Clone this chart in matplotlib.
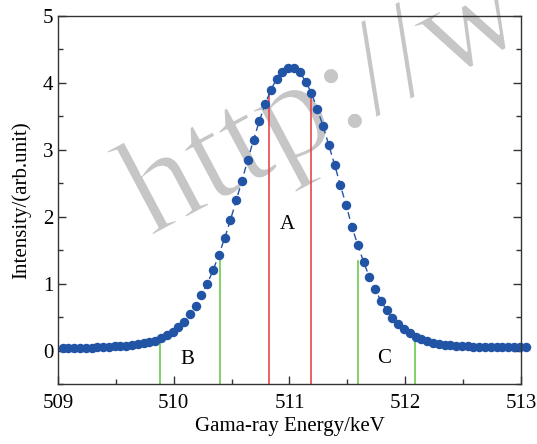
import numpy as np
import matplotlib
matplotlib.use("Agg")
import matplotlib.pyplot as plt
import matplotlib.patheffects as pe
from matplotlib.ticker import MultipleLocator

# ---- data ----
energy_start = 509.04
energy_step = 0.05
intensity = [
    0.042, 0.042, 0.043, 0.043, 0.044, 0.045, 0.047, 0.050, 0.057, 0.062,
    0.067, 0.072, 0.087, 0.097, 0.117, 0.132, 0.147, 0.182, 0.232, 0.281,
    0.347, 0.430, 0.546, 0.670, 0.825, 1.000, 1.200, 1.430, 1.680, 1.950,
    2.245, 2.540, 2.850, 3.150, 3.430, 3.680, 3.900, 4.060, 4.170, 4.220,
    4.220, 4.160, 4.020, 3.850, 3.610, 3.360, 3.070, 2.780, 2.470, 2.175,
    1.850, 1.580, 1.330, 1.100, 0.915, 0.745, 0.605, 0.490, 0.400, 0.320,
    0.257, 0.207, 0.167, 0.137, 0.117, 0.102, 0.087, 0.077, 0.070, 0.065,
    0.062, 0.060, 0.059, 0.058, 0.057, 0.057, 0.056, 0.056, 0.055, 0.055,
    0.055,
]
energy = [energy_start + energy_step * i for i in range(len(intensity))]

red_x = [510.82, 511.19]
red_top = [3.83, 3.82]
green_x = [509.885, 510.40, 511.595, 512.085]
green_top = [0.147, 1.35, 1.34, 0.18]

region_labels = ["A", "B", "C"]
region_x = [510.985, 510.12, 511.82]
region_y = [1.88, -0.14, -0.12]

xticks = [509, 510, 511, 512, 513]
yticks = [0, 1, 2, 3, 4, 5]

# ---- figure ----
plt.rcParams['font.family'] = ['Liberation Serif', 'DejaVu Serif']
fig = plt.figure(figsize=(5.37, 4.44), dpi=100)
ax = fig.add_axes([0.108, 0.135, 0.862, 0.829])

# watermark (thin grey serif text)
ax.text(0.199, 0.40, "http://www", transform=ax.transAxes, fontsize=100,
        color='#c6c6c6', rotation=28, rotation_mode='anchor',
        ha='left', va='baseline', zorder=1, clip_on=False,
        family=['Liberation Serif'],
        path_effects=[pe.Stroke(linewidth=1.6, foreground='white')])

blue = '#2254a6'
ax.plot(energy, intensity, linestyle=(0, (5, 3)), color=blue, lw=1.0,
        marker='o', markersize=5.8, markerfacecolor=blue,
        markeredgecolor=blue, clip_on=False, zorder=4)

ymin = -0.5
for x, t in zip(red_x, red_top):
    ax.plot([x, x], [ymin, t], color='#e8464c', lw=1.2, zorder=3)
for x, t in zip(green_x, green_top):
    ax.plot([x, x], [ymin, t], color='#6ccb4a', lw=1.2, zorder=3)

for lab, x, y in zip(region_labels, region_x, region_y):
    ax.text(x, y, lab, fontsize=15, ha='center', va='center', zorder=5)

ax.set_xlim(509, 513)
ax.set_ylim(-0.5, 5)
ax.set_xticks(xticks)
ax.set_yticks(yticks)
ax.xaxis.set_minor_locator(MultipleLocator(0.5))
ax.yaxis.set_minor_locator(MultipleLocator(0.5))
ax.tick_params(which='both', direction='in', labelsize=15, right=True,
               top=False, width=1.0, color='#333333')
ax.tick_params(which='major', length=6)
ax.tick_params(which='minor', length=3.5)
ax.tick_params(axis='x', which='both', pad=7)
for s in ax.spines.values():
    s.set_linewidth(1.0)
    s.set_color('#333333')
    s.set_zorder(6)

ax.set_xlabel("Gama-ray Energy/keV", fontsize=15, labelpad=3)
ax.set_ylabel("Intensity/(arb.unit)", fontsize=15, labelpad=8)
ax.patch.set_alpha(0)

fig.savefig("out.png", dpi=100)
